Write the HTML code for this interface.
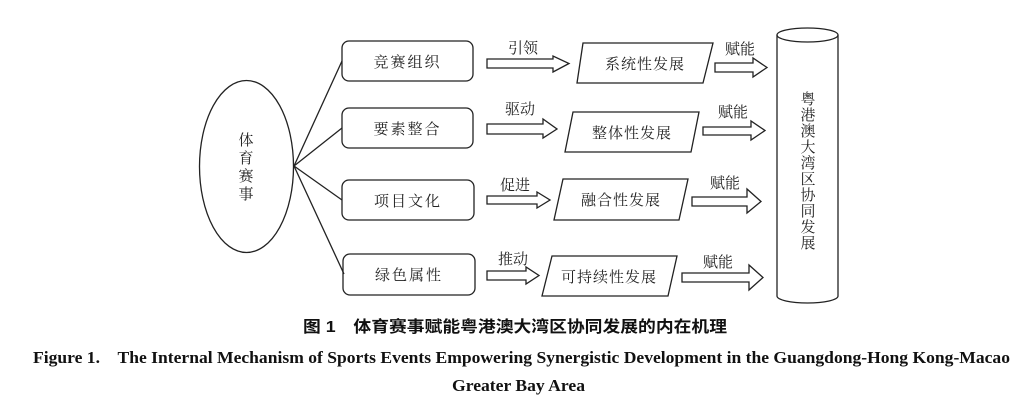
<!DOCTYPE html>
<html><head><meta charset="utf-8"><style>
html,body{margin:0;padding:0;background:#fff;}
svg{display:block;}
.t{font-family:"Liberation Serif","Noto Serif CJK SC",serif;font-size:15px;fill:#222;}
</style></head><body>
<svg width="1036" height="420" viewBox="0 0 1036 420" xmlns="http://www.w3.org/2000/svg">
<g fill="none" stroke="#222" stroke-width="1.3">
<ellipse cx="246.5" cy="166.5" rx="47" ry="86"/>
<line x1="294" y1="166" x2="342" y2="61"/>
<line x1="294" y1="166" x2="342" y2="128"/>
<line x1="294" y1="166" x2="342" y2="200"/>
<line x1="294" y1="166" x2="344" y2="274"/>
<rect x="342" y="41" width="131" height="40" rx="7"/>
<rect x="342" y="108" width="131" height="40" rx="7"/>
<rect x="342" y="180" width="132" height="40" rx="7"/>
<rect x="343" y="254" width="132" height="41" rx="7"/>
<polygon points="583,43 713,43 703,83 577,83"/>
<polygon points="573,112 699,112 691,152 565,152"/>
<polygon points="563,179 688,179 679,220 554,220"/>
<polygon points="552,256 677,256 668,296 542,296"/>
<polygon points="487,59 553,59 553,56 569,63.5 553,72 553,68 487,68"/>
<polygon points="487,124 543,124 543,119 557,129 543,138 543,134 487,134"/>
<polygon points="487,196 537,196 537,192 550,200 537,208 537,204 487,204"/>
<polygon points="487,271 526,271 526,267 539,275.5 526,284 526,280 487,280"/>
<polygon points="715,63 753,63 753,58 767,67.5 753,77 753,72 715,72"/>
<polygon points="703,127 751,127 751,121 765,130.5 751,140 751,135 703,135"/>
<polygon points="692,197 747,197 747,189 761,201.5 747,213 747,206 692,206"/>
<polygon points="682,273 749,273 749,265 763,277.5 749,290 749,282 682,282"/>
<path d="M777,35 L777,296 A30.5,7 0 0 0 838,296 L838,35"/>
<ellipse cx="807.5" cy="35" rx="30.5" ry="7"/>
</g>
<g class="t" text-anchor="middle">
<text x="246" y="145">体</text><text x="246" y="163">育</text><text x="246" y="181">赛</text><text x="246" y="199">事</text>
<text x="407.5" y="67" letter-spacing="2">竞赛组织</text>
<text x="407.5" y="134" letter-spacing="2">要素整合</text>
<text x="408" y="206" letter-spacing="2">项目文化</text>
<text x="409" y="280" letter-spacing="2">绿色属性</text>
<text x="523" y="53">引领</text>
<text x="520" y="114">驱动</text>
<text x="515" y="190">促进</text>
<text x="513" y="264">推动</text>
<text x="645" y="69" letter-spacing="1">系统性发展</text>
<text x="632" y="138" letter-spacing="1">整体性发展</text>
<text x="621" y="205" letter-spacing="1">融合性发展</text>
<text x="609" y="282" letter-spacing="1">可持续性发展</text>
<text x="740" y="54">赋能</text>
<text x="733" y="117">赋能</text>
<text x="725" y="188">赋能</text>
<text x="718" y="267">赋能</text>
<text x="808" y="104">粤</text><text x="808" y="120">港</text><text x="808" y="136">澳</text><text x="808" y="152">大</text><text x="808" y="168">湾</text><text x="808" y="184">区</text><text x="808" y="200">协</text><text x="808" y="216">同</text><text x="808" y="232">发</text><text x="808" y="248">展</text>
</g>
<g font-family="Liberation Serif,'Noto Serif CJK SC',serif" font-weight="bold" fill="#111">
<text x="303" y="332" font-size="16" textLength="424" lengthAdjust="spacingAndGlyphs" font-family="'Liberation Sans','Noto Sans CJK SC',sans-serif">图 1　体育赛事赋能粤港澳大湾区协同发展的内在机理</text>
<text x="33" y="363" font-size="17" textLength="977" lengthAdjust="spacingAndGlyphs">Figure 1.　The Internal Mechanism of Sports Events Empowering Synergistic Development in the Guangdong-Hong Kong-Macao</text>
<text x="452" y="391" font-size="17" textLength="133" lengthAdjust="spacingAndGlyphs">Greater Bay Area</text>
</g>
</svg>
</body></html>
